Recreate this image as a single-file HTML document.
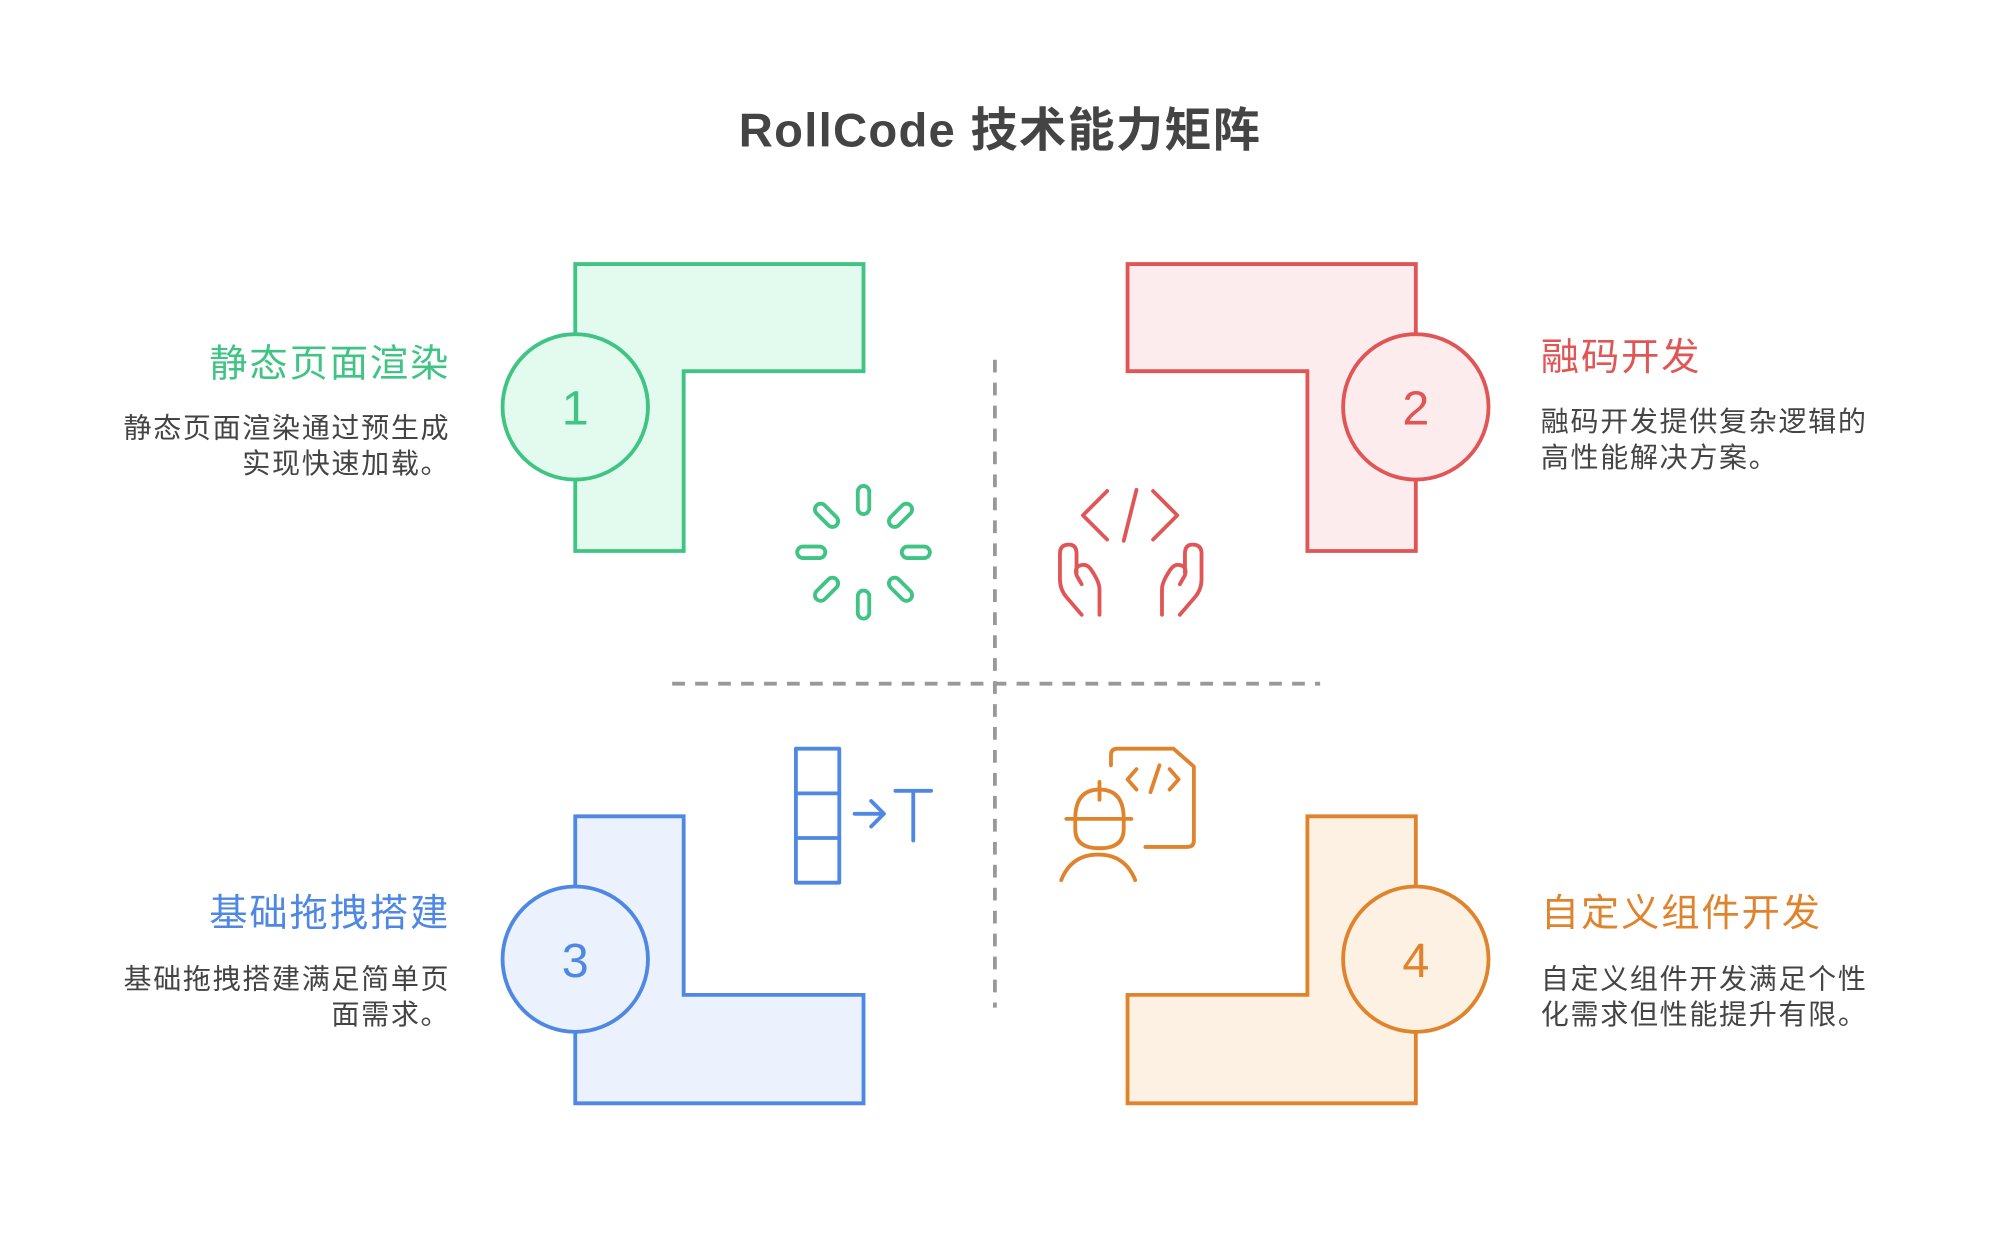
<!DOCTYPE html>
<html><head><meta charset="utf-8"><style>
html,body{margin:0;padding:0;background:#fff;}
svg{display:block}
text{font-family:"Liberation Sans","Noto Sans CJK SC",sans-serif;}
</style></head><body>
<svg width="2000" height="1250" viewBox="0 0 1568 980" xmlns="http://www.w3.org/2000/svg">
<rect width="1568" height="980" fill="#fff"/>
<text x="784" y="115" text-anchor="middle" font-size="37" font-weight="bold" fill="#444" letter-spacing="1">RollCode 技术能力矩阵</text>

<g stroke="#999" stroke-width="3" stroke-dasharray="10,8" fill="none">
<line x1="780" y1="282" x2="780" y2="790"/>
<line x1="527" y1="536" x2="1035" y2="536"/>
</g>

<path d="M451 207H677V291H536V432H451Z" fill="#e2fbee" stroke="#3fc483" stroke-width="3"/>
<circle cx="451" cy="319" r="57" fill="#e2fbee" stroke="#3fc483" stroke-width="3"/>
<text x="451" y="333" text-anchor="middle" font-size="38" fill="#3fc483">1</text>
<path d="M884 207H1110V432H1025V291H884Z" fill="#fdeced" stroke="#e05555" stroke-width="3"/>
<circle cx="1110" cy="319" r="57" fill="#fdeced" stroke="#e05555" stroke-width="3"/>
<text x="1110" y="333" text-anchor="middle" font-size="38" fill="#e05555">2</text>
<path d="M451 640H536V780H677V865H451Z" fill="#ebf2fd" stroke="#4f88e3" stroke-width="3"/>
<circle cx="451" cy="752" r="57" fill="#ebf2fd" stroke="#4f88e3" stroke-width="3"/>
<text x="451" y="766" text-anchor="middle" font-size="38" fill="#4f88e3">3</text>
<path d="M1025 640H1110V865H884V780H1025Z" fill="#fdf1e4" stroke="#e0832d" stroke-width="3"/>
<circle cx="1110" cy="752" r="57" fill="#fdf1e4" stroke="#e0832d" stroke-width="3"/>
<text x="1110" y="766" text-anchor="middle" font-size="38" fill="#e0832d">4</text>

<g font-size="30" letter-spacing="1.5">
<text x="353" y="295" text-anchor="end" fill="#3fc483">静态页面渲染</text>
<text x="1208" y="290" fill="#e05555">融码开发</text>
<text x="353" y="726" text-anchor="end" fill="#4f88e3">基础拖拽搭建</text>
<text x="1208" y="726" fill="#e0832d">自定义组件开发</text>
</g>
<g font-size="22" letter-spacing="1.3" fill="#444">
<text x="353" y="343" text-anchor="end">静态页面渲染通过预生成</text>
<text x="353" y="371" text-anchor="end">实现快速加载。</text>
<text x="1208" y="338">融码开发提供复杂逻辑的</text>
<text x="1208" y="366">高性能解决方案。</text>
<text x="353" y="775" text-anchor="end">基础拖拽搭建满足简单页</text>
<text x="353" y="803" text-anchor="end">面需求。</text>
<text x="1208" y="775">自定义组件开发满足个性</text>
<text x="1208" y="803">化需求但性能提升有限。</text>
</g>

<g stroke="#3fc483" stroke-width="3" fill="none" stroke-linecap="round">
<g transform="translate(677,433)">
<rect x="-4.5" y="-52" width="9" height="22" rx="4.5"/>
<rect x="-4.5" y="30" width="9" height="22" rx="4.5"/>
<rect x="-52" y="-4.5" width="22" height="9" rx="4.5"/>
<rect x="30" y="-4.5" width="22" height="9" rx="4.5"/>
<g transform="rotate(45)"><rect x="-4.5" y="-52" width="9" height="22" rx="4.5"/><rect x="-4.5" y="30" width="9" height="22" rx="4.5"/></g>
<g transform="rotate(-45)"><rect x="-4.5" y="-52" width="9" height="22" rx="4.5"/><rect x="-4.5" y="30" width="9" height="22" rx="4.5"/></g>
</g></g>

<g stroke="#e05555" stroke-width="3" fill="none" stroke-linecap="round" stroke-linejoin="round">
<path d="M868 385L849 404L868 423"/>
<path d="M904 385L923 404L904 423"/>
<path d="M891 384L881 424"/>
<path d="M848 482L836 468Q831 462 831 454V434Q831 427 838 427Q844 427 844 434V449"/>
<path d="M848 458L844 451Q842 444 848 443Q852 442 855 446Q862 456 862 462V482"/>
<path d="M925 482L937 468Q942 462 942 454V434Q942 427 935 427Q929 427 929 434V449"/>
<path d="M925 458L929 451Q931 444 925 443Q921 442 918 446Q911 456 911 462V482"/>
</g>

<g stroke="#4f88e3" stroke-width="3" fill="none" stroke-linecap="round" stroke-linejoin="round">
<rect x="624" y="587" width="34" height="105"/>
<line x1="624" y1="622" x2="658" y2="622"/>
<line x1="624" y1="657" x2="658" y2="657"/>
<path d="M670 638H693M683 628L693 638L683 648"/>
<path d="M702 620H730M716 620V659"/>
</g>

<g stroke="#e0832d" stroke-width="3" fill="none" stroke-linecap="round" stroke-linejoin="round">
<path d="M871 600V592Q871 587 876 587H920L936 601V659Q936 664 931 664H898"/>
<path d="M891 603L884 611L891 619"/>
<path d="M917 603L924 611L917 619"/>
<path d="M909 600L902 621"/>
<path d="M836 642H887"/>
<path d="M862 613V627"/>
<path d="M843 642Q843 619 862 619Q881 619 881 642V650Q881 665 862 665Q843 665 843 650Z"/>
<path d="M832 690Q840 670 861 670Q882 670 890 690"/>
</g>
</svg>
</body></html>
